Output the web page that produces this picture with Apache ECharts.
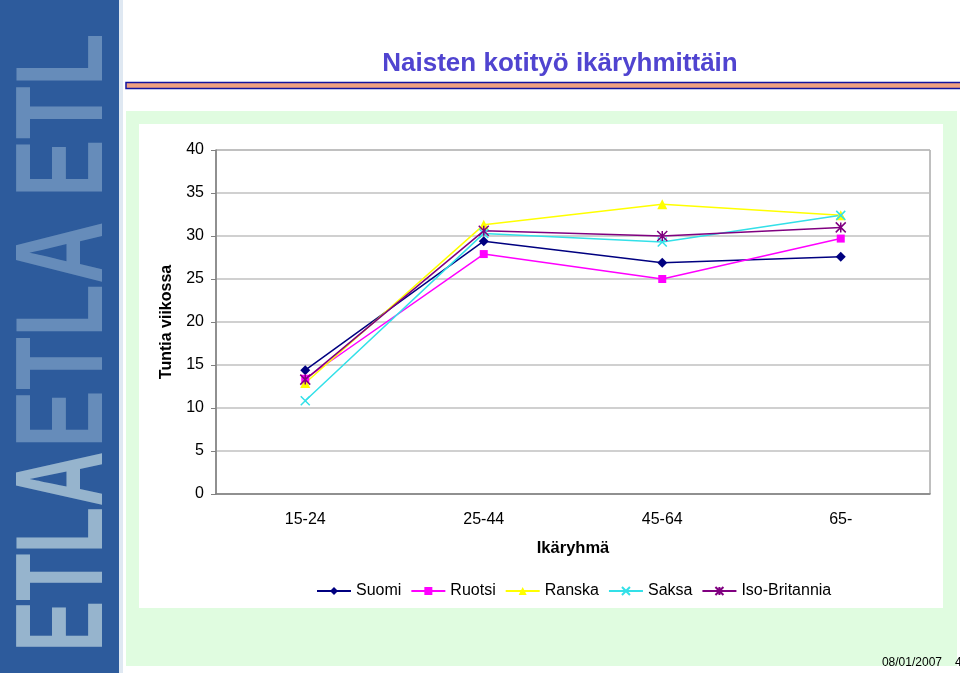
<!DOCTYPE html>
<html>
<head>
<meta charset="utf-8">
<script src="https://cdn.jsdelivr.net/npm/echarts@6/dist/echarts.min.js"></script>
<style>
html,body{margin:0;padding:0;background:#ffffff;}
#chart{width:960px;height:673px;}
</style>
</head>
<body>
<div id="chart"></div>
<script>
var categories = ['15-24', '25-44', '45-64', '65-'];
var suomi = [14.4, 29.4, 26.9, 27.6];
var ruotsi = [13.4, 27.9, 25.0, 29.7];
var ranska = [12.9, 31.3, 33.7, 32.4];
var saksa = [10.85, 30.3, 29.3, 32.4];
var isoBritannia = [13.3, 30.6, 30.0, 31.0];
var yTicks = [0, 5, 10, 15, 20, 25, 30, 35, 40];

var FONT = '"Liberation Sans", Arial, sans-serif';
var xPath = 'path://M0,0 L10,10 M10,0 L0,10';
var starPath = 'path://M0,0 L10,10 M10,0 L0,10 M5,0 L5,10';

function mkSeries(name, data, color, symbol, size, strokeSymbol) {
  return {
    name: name, type: 'line', data: data,
    symbol: symbol, symbolSize: size, showSymbol: true,
    lineStyle: {color: color, width: 1.5},
    itemStyle: strokeSymbol ? {color: 'rgba(0,0,0,0)', borderColor: color, borderWidth: 1.5} : {color: color, borderWidth: 0},
    emphasis: {disabled: true},
    z: 3
  };
}

var chart = echarts.init(document.getElementById('chart'), null, {renderer: 'canvas'});
chart.setOption({
  animation: false,
  backgroundColor: '#ffffff',
  graphic: [
    {type: 'rect', z: -10, shape: {x: 0, y: 0, width: 119, height: 673}, style: {fill: '#2d5b9c'}},
    {type: 'rect', z: -10, shape: {x: 119, y: 0, width: 4, height: 673}, style: {fill: '#dfe8f2'}},
    {type: 'text', z: -9, x: 68, y: 652, rotation: Math.PI / 2, scaleX: 0.62,
      style: {text: 'ETLA', font: 'bold 124px "Liberation Sans", Arial, sans-serif',
        fill: 'rgba(195,218,226,0.7)', align: 'left', verticalAlign: 'middle'}},
    {type: 'text', z: -9, x: 68, y: 448, rotation: Math.PI / 2, scaleX: 0.7,
      style: {text: 'ETLA ETL', font: 'bold 124px "Liberation Sans", Arial, sans-serif',
        fill: 'rgba(160,190,215,0.5)', align: 'left', verticalAlign: 'middle'}},
    {type: 'rect', z: -10, shape: {x: 126, y: 111, width: 831, height: 555}, style: {fill: '#e0fce0'}},
    {type: 'rect', z: -10, shape: {x: 139, y: 124, width: 804, height: 484}, style: {fill: '#ffffff'}},
    {type: 'rect', z: -10, shape: {x: 126, y: 82.5, width: 840, height: 6}, style: {fill: '#f0a080', stroke: '#1414a0', lineWidth: 1.5}},
    {type: 'text', x: 560, y: 64, style: {text: 'Naisten kotityö ikäryhmittäin', font: 'bold 26px ' + FONT, fill: '#5044d0', align: 'center', verticalAlign: 'middle'}},
    {type: 'text', x: 942, y: 663, style: {text: '08/01/2007', font: '12px ' + FONT, fill: '#000000', align: 'right', verticalAlign: 'middle'}},
    {type: 'text', x: 955, y: 663, style: {text: '4', font: '12px ' + FONT, fill: '#000000', align: 'left', verticalAlign: 'middle'}}
  ],
  grid: {left: 216, top: 150, width: 714, height: 344, show: true, borderColor: '#808080', borderWidth: 1, backgroundColor: 'transparent'},
  legend: {
    left: 316, top: 583, padding: 0, itemGap: 9, itemWidth: 34, itemHeight: 10,
    textStyle: {fontFamily: FONT, fontSize: 16, color: '#000000'},
    data: ['Suomi', 'Ruotsi', 'Ranska', 'Saksa', 'Iso-Britannia'],
    selectedMode: false
  },
  xAxis: {
    type: 'category', data: categories, boundaryGap: true,
    name: 'Ikäryhmä', nameLocation: 'middle', nameGap: 46,
    nameTextStyle: {fontFamily: FONT, fontSize: 16.5, fontWeight: 'bold', color: '#000000'},
    axisLine: {show: true, lineStyle: {color: '#808080', width: 1.5}},
    axisTick: {show: false},
    axisLabel: {fontFamily: FONT, fontSize: 16, color: '#000000', margin: 18},
    splitLine: {show: false}
  },
  yAxis: {
    type: 'value', min: 0, max: 40, interval: 5,
    name: 'Tuntia viikossa', nameLocation: 'middle', nameGap: 41,
    nameTextStyle: {fontFamily: FONT, fontSize: 16, fontWeight: 'bold', color: '#000000'},
    axisLine: {show: true, lineStyle: {color: '#808080', width: 1.5}},
    axisTick: {show: true, inside: false, length: 5, lineStyle: {color: '#808080'}},
    axisLabel: {fontFamily: FONT, fontSize: 16, color: '#000000', margin: 12,
      formatter: function (v) { return yTicks.indexOf(v) >= 0 ? String(v) : ''; }},
    splitLine: {show: true, lineStyle: {color: '#c0c0c0', width: 1.5}}
  },
  series: [
    mkSeries('Suomi', suomi, '#000080', 'diamond', 10, false),
    mkSeries('Ruotsi', ruotsi, '#ff00ff', 'rect', 8, false),
    mkSeries('Ranska', ranska, '#ffff00', 'triangle', 10, false),
    mkSeries('Saksa', saksa, '#33e0e8', xPath, 9, true),
    mkSeries('Iso-Britannia', isoBritannia, '#800080', starPath, 10, true)
  ]
});
</script>
</body>
</html>
